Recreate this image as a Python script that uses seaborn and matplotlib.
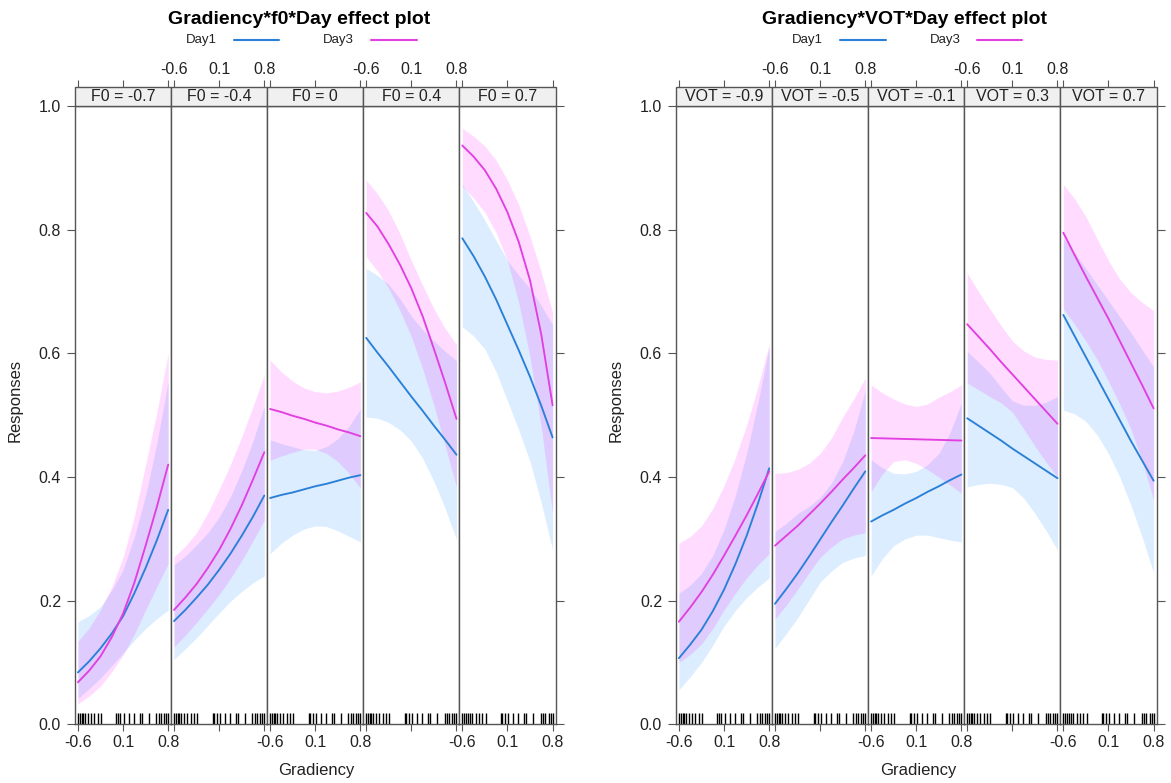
import matplotlib
matplotlib.use("Agg")
import pandas as pd
import matplotlib.pyplot as plt
from matplotlib.patches import Rectangle
from matplotlib.lines import Line2D
import seaborn as sns

# ---------------- data ----------------
x_grid = [-0.6, -0.425, -0.25, -0.075, 0.1, 0.275, 0.45, 0.625, 0.8]
x_ticks = [-0.6, 0.1, 0.8]
x_tick_labels = ["-0.6", "0.1", "0.8"]
y_ticks = [0.0, 0.2, 0.4, 0.6, 0.8, 1.0]
y_tick_labels = ["0.0", "0.2", "0.4", "0.6", "0.8", "1.0"]
days = ["Day1", "Day3"]

f0_panels = ["F0 = -0.7", "F0 = -0.4", "F0 = 0", "F0 = 0.4", "F0 = 0.7"]
vot_panels = ["VOT = -0.9", "VOT = -0.5", "VOT = -0.1", "VOT = 0.3", "VOT = 0.7"]

rug_x = [-0.6, -0.574, -0.543, -0.518, -0.487, -0.446, -0.394, -0.343, -0.291, -0.24,
         -0.003, 0.018, 0.059, 0.11, 0.188, 0.265, 0.357, 0.388, 0.496, 0.615,
         0.651, 0.687, 0.738, 0.769, 0.8]

# Gradiency*f0*Day
f0_day1_fit = [[0.084, 0.102, 0.123, 0.147, 0.175, 0.212, 0.253, 0.298, 0.347],
               [0.167, 0.185, 0.205, 0.226, 0.250, 0.276, 0.305, 0.336, 0.370],
               [0.366, 0.371, 0.375, 0.380, 0.385, 0.389, 0.394, 0.399, 0.403],
               [0.625, 0.601, 0.578, 0.554, 0.530, 0.507, 0.483, 0.460, 0.436],
               [0.786, 0.757, 0.724, 0.687, 0.646, 0.605, 0.562, 0.515, 0.464]]
f0_day1_lo = [[0.042, 0.058, 0.075, 0.095, 0.115, 0.136, 0.155, 0.171, 0.185],
              [0.105, 0.122, 0.140, 0.160, 0.180, 0.199, 0.215, 0.229, 0.240],
              [0.276, 0.293, 0.306, 0.316, 0.321, 0.320, 0.313, 0.304, 0.295],
              [0.497, 0.495, 0.488, 0.476, 0.458, 0.430, 0.393, 0.349, 0.299],
              [0.643, 0.628, 0.607, 0.570, 0.523, 0.476, 0.425, 0.358, 0.282]]
f0_day1_hi = [[0.166, 0.176, 0.190, 0.217, 0.250, 0.303, 0.370, 0.455, 0.555],
              [0.258, 0.272, 0.290, 0.310, 0.335, 0.368, 0.410, 0.458, 0.515],
              [0.460, 0.454, 0.449, 0.444, 0.443, 0.449, 0.462, 0.482, 0.510],
              [0.737, 0.726, 0.711, 0.688, 0.660, 0.638, 0.620, 0.603, 0.588],
              [0.873, 0.845, 0.815, 0.782, 0.750, 0.726, 0.705, 0.677, 0.646]]
f0_day3_fit = [[0.068, 0.087, 0.110, 0.141, 0.179, 0.229, 0.289, 0.352, 0.420],
               [0.185, 0.205, 0.227, 0.253, 0.282, 0.316, 0.354, 0.396, 0.440],
               [0.510, 0.505, 0.499, 0.494, 0.488, 0.483, 0.477, 0.472, 0.466],
               [0.827, 0.805, 0.776, 0.743, 0.705, 0.660, 0.607, 0.552, 0.494],
               [0.936, 0.918, 0.896, 0.866, 0.828, 0.780, 0.718, 0.630, 0.516]]
f0_day3_lo = [[0.033, 0.046, 0.062, 0.085, 0.112, 0.146, 0.185, 0.223, 0.260],
              [0.125, 0.144, 0.165, 0.187, 0.210, 0.236, 0.265, 0.297, 0.330],
              [0.427, 0.434, 0.440, 0.445, 0.445, 0.438, 0.425, 0.406, 0.382],
              [0.756, 0.733, 0.705, 0.669, 0.627, 0.575, 0.516, 0.450, 0.384],
              [0.870, 0.851, 0.828, 0.795, 0.750, 0.682, 0.594, 0.480, 0.341]]
f0_day3_hi = [[0.134, 0.156, 0.185, 0.222, 0.270, 0.336, 0.420, 0.505, 0.600],
              [0.271, 0.288, 0.310, 0.342, 0.380, 0.420, 0.465, 0.514, 0.565],
              [0.589, 0.570, 0.555, 0.544, 0.538, 0.536, 0.539, 0.545, 0.554],
              [0.880, 0.858, 0.830, 0.793, 0.750, 0.710, 0.672, 0.640, 0.614],
              [0.964, 0.951, 0.935, 0.912, 0.880, 0.840, 0.789, 0.731, 0.666]]

# Gradiency*VOT*Day
vot_day1_fit = [[0.107, 0.129, 0.153, 0.183, 0.218, 0.259, 0.305, 0.357, 0.414],
                [0.195, 0.219, 0.244, 0.271, 0.299, 0.327, 0.354, 0.382, 0.409],
                [0.328, 0.338, 0.347, 0.357, 0.366, 0.376, 0.385, 0.395, 0.404],
                [0.495, 0.483, 0.471, 0.459, 0.446, 0.434, 0.422, 0.410, 0.398],
                [0.662, 0.628, 0.594, 0.560, 0.526, 0.492, 0.458, 0.426, 0.394]]
vot_day1_lo = [[0.056, 0.077, 0.100, 0.128, 0.159, 0.184, 0.205, 0.222, 0.237],
               [0.123, 0.147, 0.172, 0.201, 0.230, 0.248, 0.262, 0.269, 0.273],
               [0.240, 0.268, 0.289, 0.300, 0.306, 0.306, 0.302, 0.298, 0.295],
               [0.384, 0.388, 0.390, 0.388, 0.383, 0.366, 0.341, 0.313, 0.282],
               [0.508, 0.502, 0.490, 0.468, 0.438, 0.400, 0.354, 0.302, 0.245]]
vot_day1_hi = [[0.212, 0.225, 0.244, 0.273, 0.315, 0.370, 0.438, 0.520, 0.610],
               [0.312, 0.325, 0.341, 0.352, 0.367, 0.390, 0.425, 0.475, 0.540],
               [0.428, 0.415, 0.406, 0.405, 0.409, 0.420, 0.438, 0.472, 0.520],
               [0.603, 0.586, 0.568, 0.545, 0.523, 0.516, 0.516, 0.521, 0.530],
               [0.786, 0.762, 0.737, 0.711, 0.685, 0.659, 0.633, 0.605, 0.578]]
vot_day3_fit = [[0.166, 0.189, 0.214, 0.242, 0.273, 0.305, 0.338, 0.373, 0.409],
                [0.289, 0.305, 0.321, 0.339, 0.357, 0.376, 0.396, 0.415, 0.435],
                [0.463, 0.4625, 0.462, 0.4615, 0.461, 0.4605, 0.460, 0.4595, 0.459],
                [0.647, 0.627, 0.607, 0.586, 0.566, 0.546, 0.526, 0.506, 0.486],
                [0.795, 0.759, 0.724, 0.690, 0.656, 0.620, 0.584, 0.548, 0.511]]
vot_day3_lo = [[0.100, 0.113, 0.130, 0.155, 0.185, 0.212, 0.237, 0.258, 0.276],
               [0.170, 0.193, 0.218, 0.245, 0.270, 0.287, 0.300, 0.306, 0.310],
               [0.376, 0.405, 0.425, 0.428, 0.422, 0.412, 0.400, 0.387, 0.374],
               [0.552, 0.541, 0.530, 0.520, 0.505, 0.478, 0.450, 0.424, 0.400],
               [0.672, 0.647, 0.620, 0.590, 0.555, 0.518, 0.477, 0.425, 0.363]]
vot_day3_hi = [[0.293, 0.304, 0.321, 0.349, 0.386, 0.431, 0.484, 0.546, 0.615],
               [0.406, 0.407, 0.412, 0.422, 0.438, 0.463, 0.497, 0.527, 0.560],
               [0.549, 0.536, 0.526, 0.518, 0.514, 0.518, 0.529, 0.538, 0.549],
               [0.730, 0.700, 0.672, 0.645, 0.620, 0.604, 0.594, 0.590, 0.589],
               [0.873, 0.850, 0.821, 0.785, 0.750, 0.720, 0.698, 0.682, 0.669]]

# ---------------- style ----------------
sns.set_theme(style="ticks")
plt.rcParams['font.family'] = ['Liberation Sans', 'DejaVu Sans']
plt.rcParams['axes.unicode_minus'] = False

W, H = 1171, 783
fig = plt.figure(figsize=(W / 100, H / 100), dpi=100)

line_colors = {"Day1": "#2a7fd6", "Day3": "#e23fe0"}
band_colors = {"Day1": "#0080ff", "Day3": "#ff00ff"}
frame_col = "#555555"
text_col = "#222222"

TICK_FS = 11.5
STRIP_FS = 11.5
LABEL_FS = 12
TITLE_FS = 14
LEGEND_FS = 9.5


def px(x):
    return x / W


def py(y):
    return 1 - y / H


y_top, y_bot = 105.9, 724.4
strip_h = 18.5 / (y_bot - y_top)
xpad = 0.045


def draw_block(x0, x1, panels, fits, los, his, title, title_x, legend_x, xlabel_x, ylabel_x):
    n = len(panels)
    pw = (x1 - x0) / n
    for i, name in enumerate(panels):
        ax = fig.add_axes([px(x0 + i * pw), py(y_bot), px(pw), (y_bot - y_top) / H])
        rows = []
        for d in days:
            ax.fill_between(x_grid, los[d][i], his[d][i], color=band_colors[d],
                            alpha=0.14, lw=0, zorder=1)
            for xv, yv in zip(x_grid, fits[d][i]):
                rows.append({"Gradiency": xv, "Responses": yv, "Day": d})
        df = pd.DataFrame(rows)
        sns.lineplot(data=df, x="Gradiency", y="Responses", hue="Day", palette=line_colors,
                     estimator=None, lw=1.35, ax=ax, legend=False, zorder=3)
        sns.rugplot(x=rug_x, height=0.018, ax=ax, color="black", lw=0.8,
                    expand_margins=False)
        ax.set_xlim(-0.6 - xpad, 0.8 + xpad)
        ax.set_ylim(0, 1)
        ax.set_xlabel("")
        ax.set_ylabel("")
        for s in ax.spines.values():
            s.set_color(frame_col)
            s.set_linewidth(1.0)
        ax.set_xticks(x_ticks)
        ax.set_xticklabels(x_tick_labels)
        ax.tick_params(axis="x", direction="out", length=5, width=0.8, color=frame_col,
                       labelsize=TICK_FS, labelcolor=text_col, pad=2.5,
                       labelbottom=(i % 2 == 0))
        if i == 0:
            ax.set_yticks(y_ticks)
            ax.set_yticklabels(y_tick_labels)
            ax.tick_params(axis="y", direction="out", length=6, width=0.8, color=frame_col,
                           labelsize=TICK_FS, labelcolor=text_col, pad=4,
                           left=True, right=False)
        elif i == n - 1:
            ax.set_yticks(y_ticks)
            ax.tick_params(axis="y", direction="out", length=6, width=0.8, color=frame_col,
                           left=False, right=True, labelleft=False, labelright=False)
        else:
            ax.set_yticks([])
        # strip
        ax.add_patch(Rectangle((0, 1), 1, strip_h, transform=ax.transAxes,
                               facecolor="#f0f0f0", edgecolor=frame_col, lw=1.0,
                               clip_on=False, zorder=5))
        ax.text(0.5, 1 + strip_h / 2, name, transform=ax.transAxes, ha="center",
                va="center", fontsize=STRIP_FS, color=text_col, zorder=6)
        # top axis above strip
        sec = ax.secondary_xaxis(1 + strip_h)
        sec.set_xticks(x_ticks)
        sec.set_xticklabels(x_tick_labels)
        sec.tick_params(axis="x", direction="out", length=5, width=0.8, color=frame_col,
                        labelsize=TICK_FS, labelcolor=text_col, pad=2.5,
                        labeltop=(i % 2 == 1))
        for s in sec.spines.values():
            s.set_visible(False)

    fig.text(px(title_x), py(20), title, ha="center", va="center", fontsize=TITLE_FS,
             fontweight="bold", color="black")
    # legend
    for d, (tx, lx0, lx1) in zip(days, legend_x):
        fig.text(px(tx), py(40), d, ha="center", va="center", fontsize=LEGEND_FS,
                 color=text_col)
        fig.add_artist(Line2D([px(lx0), px(lx1)], [py(40), py(40)],
                              color=line_colors[d], lw=1.5, transform=fig.transFigure))
    fig.text(px(xlabel_x), py(771), "Gradiency", ha="center", va="center",
             fontsize=LABEL_FS, color=text_col)
    fig.text(px(ylabel_x), py(400), "Responses", ha="center", va="center",
             rotation=90, fontsize=LABEL_FS, color=text_col)


fits_f0 = {"Day1": f0_day1_fit, "Day3": f0_day3_fit}
los_f0 = {"Day1": f0_day1_lo, "Day3": f0_day3_lo}
his_f0 = {"Day1": f0_day1_hi, "Day3": f0_day3_hi}
fits_vot = {"Day1": vot_day1_fit, "Day3": vot_day3_fit}
los_vot = {"Day1": vot_day1_lo, "Day3": vot_day3_lo}
his_vot = {"Day1": vot_day1_hi, "Day3": vot_day3_hi}

draw_block(75, 555.5, f0_panels, fits_f0, los_f0, his_f0,
           "Gradiency*f0*Day effect plot", 299,
           [(201, 234, 279), (338, 371, 417)], 316, 15)
draw_block(676, 1156.5, vot_panels, fits_vot, los_vot, his_vot,
           "Gradiency*VOT*Day effect plot", 905,
           [(807, 840, 886), (945, 977, 1022)], 918, 616)

fig.savefig("out.png", dpi=100, facecolor="white")
